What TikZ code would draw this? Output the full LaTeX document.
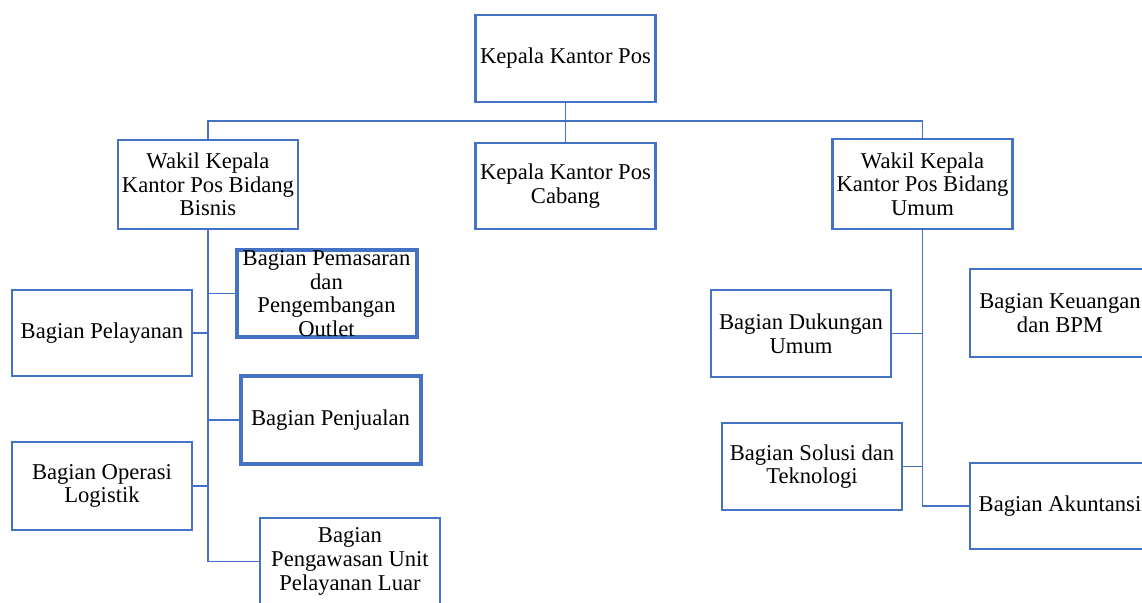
\documentclass[tikz,border=0pt]{standalone}
\usepackage{fontspec}
\setmainfont{Liberation Serif}
\definecolor{biruWord}{HTML}{4472C4}
\begin{document}
\begin{tikzpicture}[x=0.5pt,y=-0.5pt]


\tikzset{unit/.style={rectangle,draw=biruWord,line width=1.2pt,inner sep=0pt,minimum width=90pt,minimum height=43.5pt,align=center,font=\fontsize{11.3}{11.8}\selectfont},}
\tikzset{unitTebal/.style={unit,line width=2pt},}
\tikzset{garis/.style={draw=biruWord,line width=0.8pt}}

\useasboundingbox (0,0) rectangle (1142,602);
\clip (0,0) rectangle (1142,602);
	\draw
		(565.5,58.5) node[unit] (kp) {Kepala Kantor Pos}
		(208,184.5) node[unit,minimum height=44.5pt] (wb) {Wakil Kepala\\Kantor Pos Bidang\\Bisnis}
		(565.5,186) node[unit,minimum height=43pt] (kc) {Kepala Kantor Pos\\Cabang}
		(922.5,184) node[unit,minimum height=45pt] (wu) {Wakil Kepala\\Kantor Pos Bidang\\Umum}
		
		(326.5,293.5) node[unitTebal] (b1) {Bagian Pemasaran\\dan\\Pengembangan\\Outlet}
		(102,333) node[unit,minimum height=43pt] (b2) {Bagian Pelayanan}
		(330.5,420) node[unitTebal,minimum height=44pt] (b3) {Bagian Penjualan}
		(102,486) node[unit,minimum height=44pt] (b4) {Bagian Operasi\\Logistik}
		(350,561.5) node[unit] (b5) {Bagian\\Pengawasan Unit\\Pelayanan Luar}
		
		(801,333.5) node[unit] (u1) {Bagian Dukungan\\Umum}
		(1060,313) node[unit,minimum height=44pt] (u2) {Bagian Keuangan\\dan BPM}
		(812,466.5) node[unit] (u3) {Bagian Solusi dan\\Teknologi}
		(1060,506) node[unit,minimum height=43pt] (u4) {Bagian Akuntansi}
;
\coordinate (bar) at (565.5,121);


\draw[garis](kp) -- (kc);
\draw[garis](wb) |- (bar) -| (wu);
\draw[garis](wb.south) |- (b5.west);
\draw[garis](wb.south) |- (b1.west);
\draw[garis](wb.south) |- (b3.west);
\draw[garis](b2.east) -| (wb.south);
\draw[garis](b4.east) -| (wb.south);
\draw[garis](wu.south) |- (u4.west);
\draw[garis](u1.east) -| (wu.south);
\draw[garis](u3.east) -| (wu.south);



\end{tikzpicture}
\end{document}
